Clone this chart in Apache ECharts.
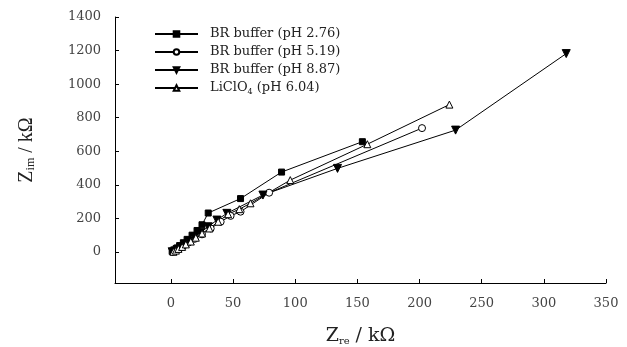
<!DOCTYPE html>
<html><head><meta charset="utf-8">
<script src="https://cdn.jsdelivr.net/npm/echarts@6/dist/echarts.min.js"></script>
<style>html,body{margin:0;padding:0;background:#fff}#c{width:627px;height:347px}</style>
</head><body><div id="c"></div>
<script>
const seriesNames = ['BR buffer (pH 2.76)', 'BR buffer (pH 5.19)', 'BR buffer (pH 8.87)', 'LiClO{sub|4} (pH 6.04)'];
const ph276 = [[1,3],[3,12],[5,24],[7,38],[10,55],[13,75],[17,100],[21,128],[25,162],[30,232],[56,318],[89,476],[154,657]];
const ph519 = [[2,2],[4,10],[7,22],[10,36],[14,55],[19,78],[25,105],[32,140],[40,180],[48,215],[56,240],[79,353],[202,738]];
const ph887 = [[1,1],[3,6],[5,15],[8,28],[11,44],[15,65],[19,90],[24,118],[30,150],[37,190],[45,230],[74,339],[134,498],[229,726],[318,1182]];
const liclo4 = [[2,1],[4,8],[6,18],[9,30],[12,45],[16,62],[20,85],[25,110],[31,140],[38,180],[46,225],[55,255],[64,290],[96,428],[158,642],[224,878]];
const xTicks = [0,50,100,150,200,250,300,350];
const yTicks = [0,200,400,600,800,1000,1200,1400];

const font = 'DejaVu Serif';
const fontNarrow = 'Liberation Serif';
const chart = echarts.init(document.getElementById('c'), null, {renderer:'canvas'});
const mk = (name, data, symbol, filled, size, rot) => ({
  name, type:'line', data, symbol, symbolSize:size, symbolRotate: rot||0,
  lineStyle:{color:'#000', width:1},
  itemStyle:{color: filled ? '#000' : '#fff', borderColor:'#000', borderWidth:1},
  showAllSymbol:true, animation:false
});
chart.setOption({
  animation:false,
  grid:{left:115, right:21, top:17, bottom:64, outerBoundsMode:'none'},
  legend:{
    orient:'vertical', left:149, top:21, itemWidth:43, itemHeight:7, itemGap:2,
    textStyle:{fontFamily:font, fontSize:13, lineHeight:16, color:'#222', padding:[0,0,0,7],
      rich:{sub:{fontFamily:font, fontSize:8, verticalAlign:'bottom', padding:[6,0,0,0], color:'#222'}}},
    data: seriesNames
  },
  xAxis:{
    type:'value', min:-45, max:350,
    axisLine:{onZero:false, lineStyle:{color:'#000', width:1}},
    axisTick:{inside:true, length:4, customValues:xTicks, lineStyle:{color:'#000'}},
    axisLabel:{customValues:xTicks, formatter:v=>String(v), fontFamily:font, fontSize:13, color:'#444', margin:14},
    splitLine:{show:false},
    name:'{z|Z}{s|re}{z| / kΩ}', nameLocation:'middle', nameGap:44,
    nameTextStyle:{rich:{z:{fontFamily:font, fontSize:19, color:'#222'}, s:{fontFamily:font, fontSize:10, color:'#222', verticalAlign:'bottom', padding:[8,0,0,0]}}}
  },
  yAxis:{
    type:'value', min:-185, max:1400,
    axisLine:{show:true, onZero:false, lineStyle:{color:'#000', width:1}},
    axisTick:{show:true, inside:true, length:4, customValues:yTicks, lineStyle:{color:'#000'}},
    axisLabel:{customValues:yTicks, formatter:v=>String(v), fontFamily:font, fontSize:13, color:'#444', margin:14},
    splitLine:{show:false},
    name:'{z|Z}{s|im}{z| / kΩ}', nameLocation:'middle', nameGap:78, nameRotate:90,
    nameTextStyle:{rich:{z:{fontFamily:fontNarrow, fontSize:20, color:'#222'}, s:{fontFamily:fontNarrow, fontSize:12, color:'#222', verticalAlign:'bottom', padding:[8,0,0,0]}}}
  },
  series:[
    mk(seriesNames[0], ph276, 'rect', true, 6),
    mk(seriesNames[1], ph519, 'circle', false, 7),
    mk(seriesNames[2], ph887, 'triangle', true, 8, 180),
    mk(seriesNames[3], liclo4, 'triangle', false, 7)
  ]
});
</script></body></html>
